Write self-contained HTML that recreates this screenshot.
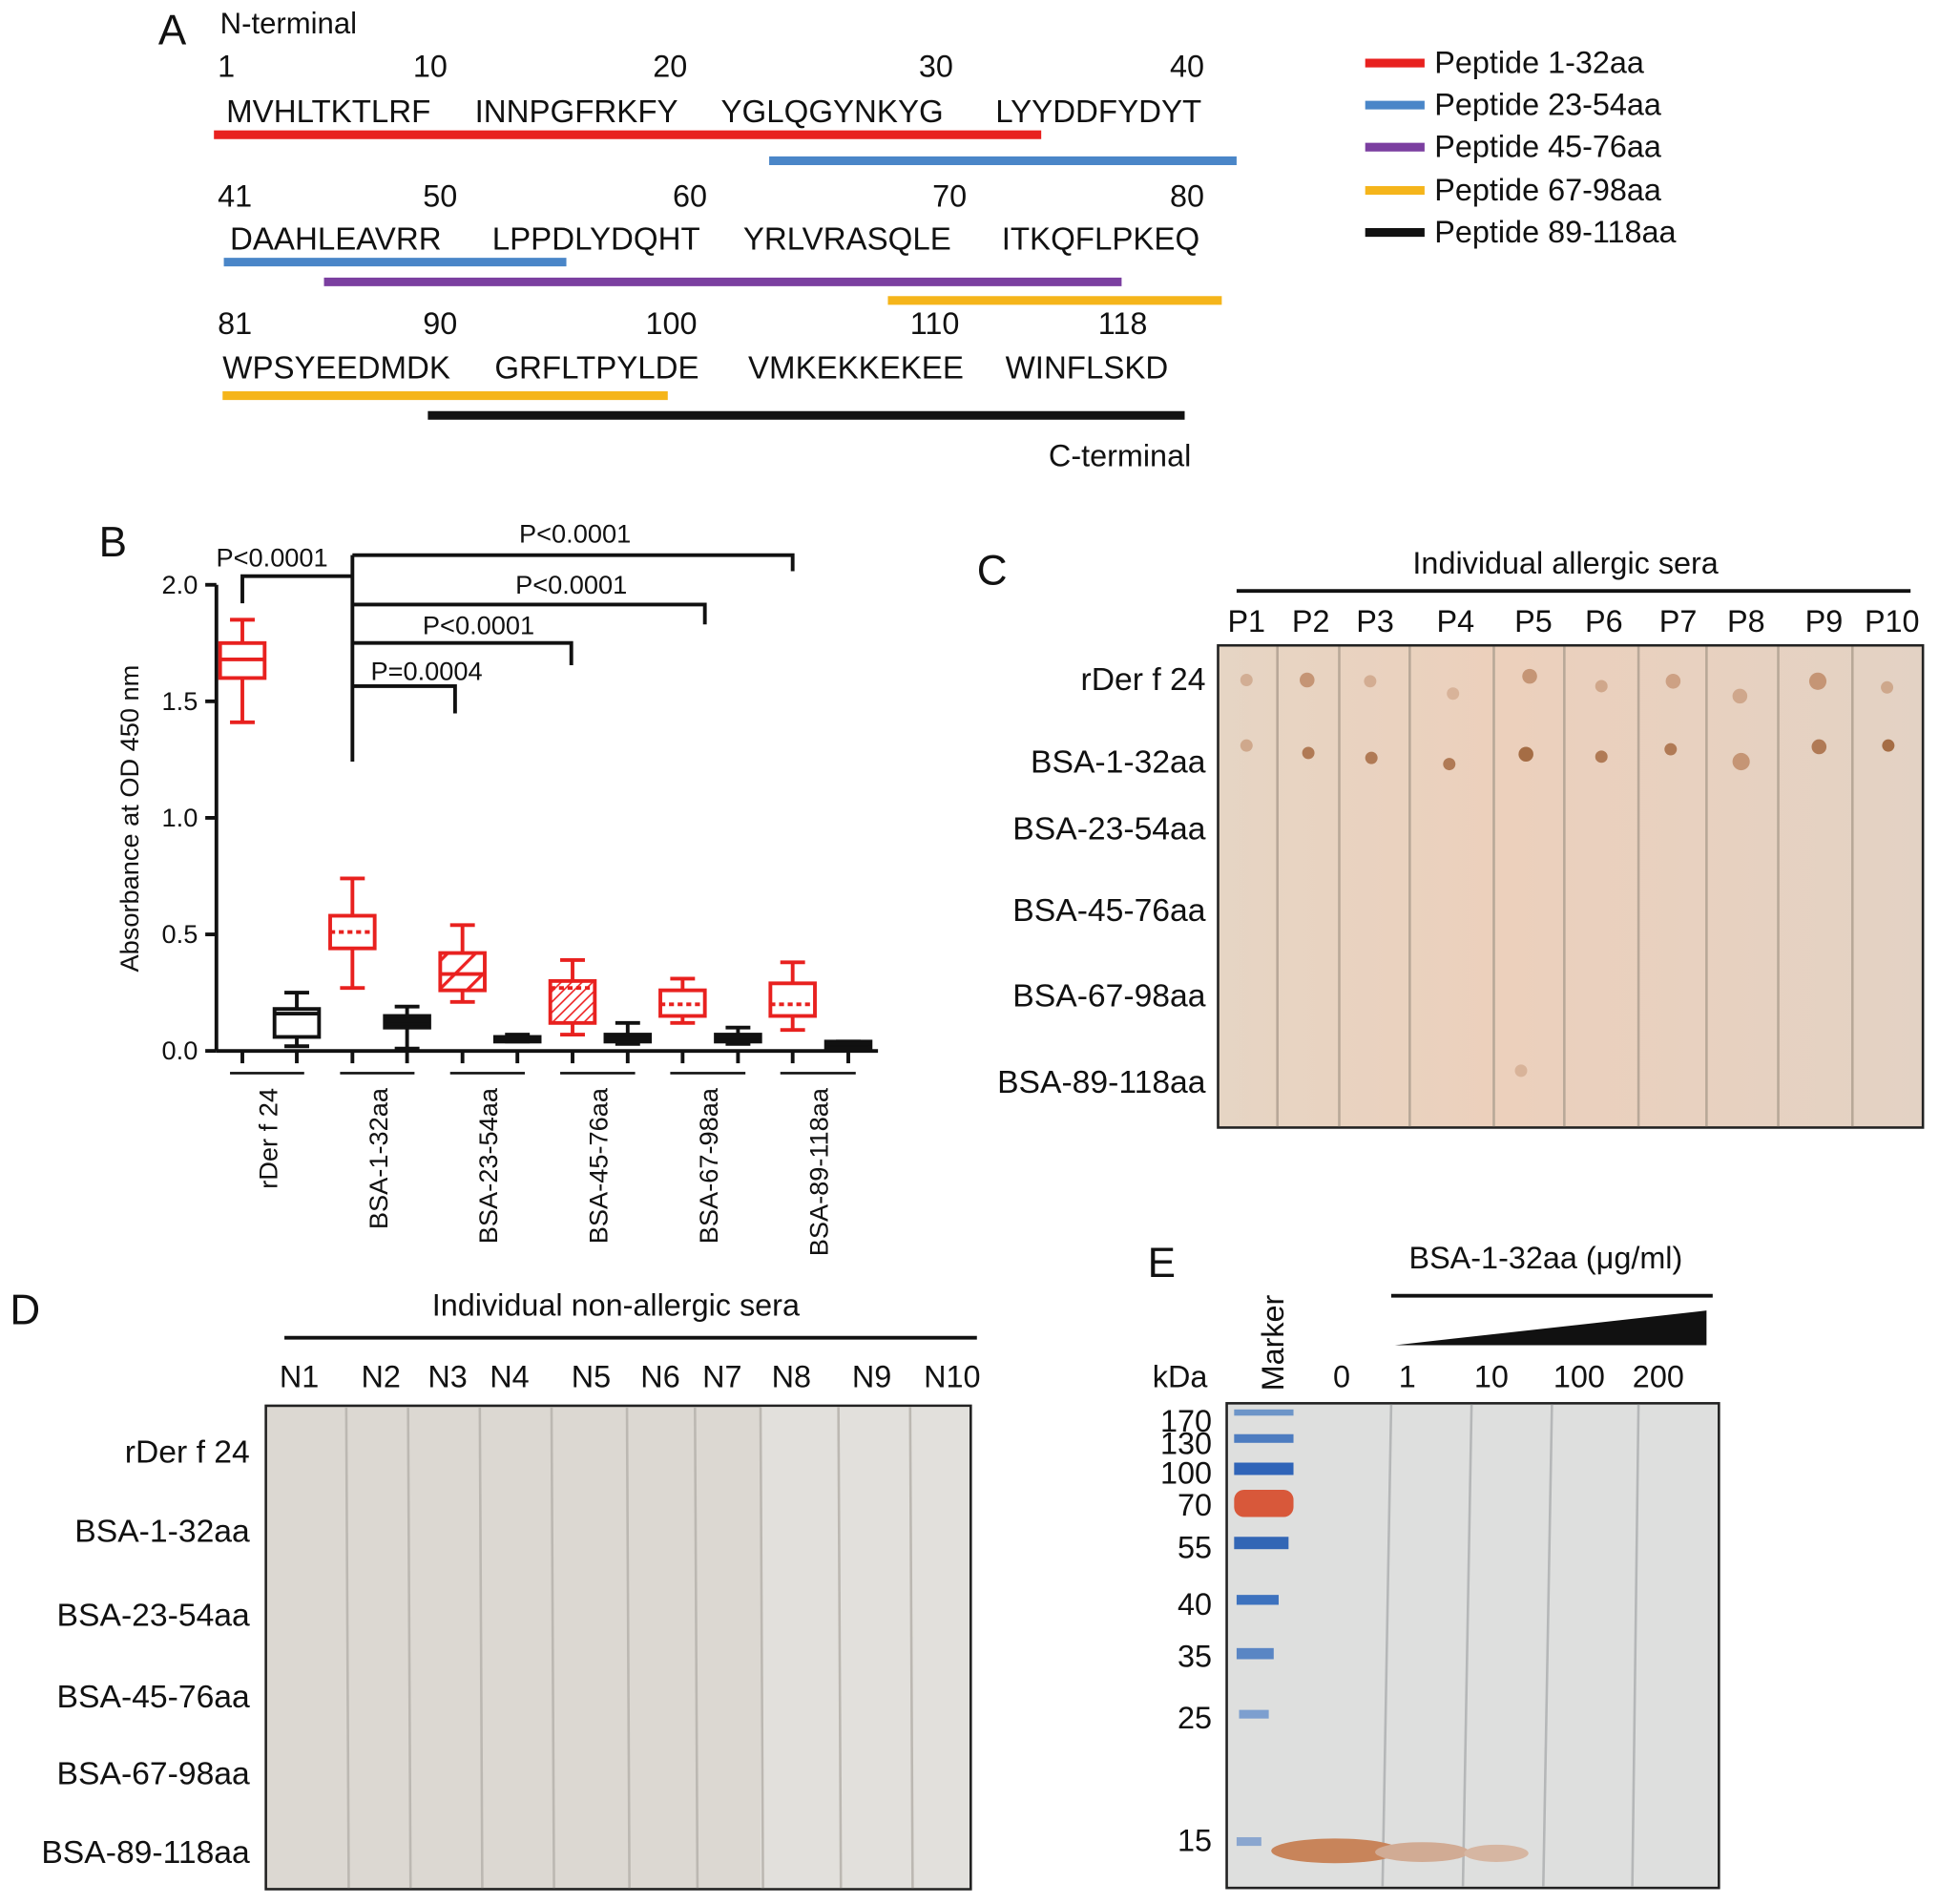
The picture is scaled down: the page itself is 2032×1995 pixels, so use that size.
<!DOCTYPE html>
<html><head><meta charset="utf-8"><style>
html,body{margin:0;padding:0;background:#fff;}
svg{display:block;font-family:"Liberation Sans",Arial,sans-serif;}
</style></head><body>
<svg id="fig" width="2032" height="1995" viewBox="0 0 1568 1540" preserveAspectRatio="none" xmlns="http://www.w3.org/2000/svg">
<defs>
<pattern id="hatch" patternUnits="userSpaceOnUse" width="6" height="6" patternTransform="rotate(45)"><line x1="0" y1="0" x2="0" y2="6" stroke="#e22" stroke-width="2.5"/></pattern>
<pattern id="hatch2" patternUnits="userSpaceOnUse" width="16" height="16" patternTransform="rotate(45)"><line x1="0" y1="0" x2="0" y2="16" stroke="#e22" stroke-width="5"/></pattern>
<linearGradient id="memC" x1="0" x2="1" y1="0" y2="0"><stop offset="0" stop-color="#e6d5c4"/><stop offset="0.4" stop-color="#ecd0bc"/><stop offset="1" stop-color="#e3d2c4"/></linearGradient>
</defs>

<g font-size="25" fill="#111">
<text x="128" y="36" font-size="34">A</text>
<text x="178" y="27" font-size="24">N-terminal</text>
<g>
<text x="176" y="62">1</text><text x="334" y="62">10</text><text x="528" y="62">20</text><text x="743" y="62">30</text><text x="946" y="62">40</text>
<text x="176" y="167">41</text><text x="342" y="167">50</text><text x="544" y="167">60</text><text x="754" y="167">70</text><text x="946" y="167">80</text>
<text x="176" y="270">81</text><text x="342" y="270">90</text><text x="522" y="270">100</text><text x="736" y="270">110</text><text x="888" y="270">118</text>
</g>
<g font-size="25.5">
<text x="183" y="99">MVHLTKTLRF</text><text x="384" y="99">INNPGFRKFY</text><text x="583" y="99">YGLQGYNKYG</text><text x="805" y="99">LYYDDFYDYT</text>
<text x="186" y="202">DAAHLEAVRR</text><text x="398" y="202">LPPDLYDQHT</text><text x="601" y="202">YRLVRASQLE</text><text x="810" y="202">ITKQFLPKEQ</text>
<text x="180" y="306">WPSYEEDMDK</text><text x="400" y="306">GRFLTPYLDE</text><text x="605" y="306">VMKEKKEKEE</text><text x="813" y="306">WINFLSKD</text>
</g>
<g stroke-width="7">
<line x1="173" y1="109" x2="842" y2="109" stroke="#e8211f"/>
<line x1="622" y1="130" x2="1000" y2="130" stroke="#4a86c8"/>
<line x1="181" y1="212" x2="458" y2="212" stroke="#4a86c8"/>
<line x1="262" y1="228" x2="907" y2="228" stroke="#7b3fa0"/>
<line x1="718" y1="243" x2="988" y2="243" stroke="#f5b51b"/>
<line x1="180" y1="320" x2="540" y2="320" stroke="#f5b51b"/>
<line x1="346" y1="336" x2="958" y2="336" stroke="#111"/>
</g>
<text x="848" y="377">C-terminal</text>
<g stroke-width="7">
<line x1="1104" y1="51" x2="1152" y2="51" stroke="#e8211f"/><text x="1160" y="59" stroke="none">Peptide 1-32aa</text>
<line x1="1104" y1="85" x2="1152" y2="85" stroke="#4a86c8"/><text x="1160" y="93" stroke="none">Peptide 23-54aa</text>
<line x1="1104" y1="119" x2="1152" y2="119" stroke="#7b3fa0"/><text x="1160" y="127" stroke="none">Peptide 45-76aa</text>
<line x1="1104" y1="154" x2="1152" y2="154" stroke="#f5b51b"/><text x="1160" y="162" stroke="none">Peptide 67-98aa</text>
<line x1="1104" y1="188" x2="1152" y2="188" stroke="#111"/><text x="1160" y="196" stroke="none">Peptide 89-118aa</text>
</g>
</g>

<g id="chartB" font-size="21" fill="#111">
<text x="80" y="450" font-size="34">B</text>
<text transform="translate(112,662) rotate(-90)" text-anchor="middle">Absorbance at OD 450 nm</text>
</g>

<g font-size="25" fill="#111">
<text x="790" y="473" font-size="34">C</text>
<text x="1266" y="464" text-anchor="middle">Individual allergic sera</text>
<line x1="1000" y1="478" x2="1545" y2="478" stroke="#111" stroke-width="3"/>
<g text-anchor="middle">
<text x="1008" y="511">P1</text><text x="1060" y="511">P2</text><text x="1112" y="511">P3</text><text x="1177" y="511">P4</text><text x="1240" y="511">P5</text><text x="1297" y="511">P6</text><text x="1357" y="511">P7</text><text x="1412" y="511">P8</text><text x="1475" y="511">P9</text><text x="1530" y="511">P10</text>
</g>
<rect x="985" y="522" width="570" height="390" fill="url(#memC)" stroke="#222" stroke-width="2"/>
<g stroke="#b8a898" stroke-width="2">
<line x1="1033" y1="523" x2="1033" y2="911"/><line x1="1083" y1="523" x2="1083" y2="911"/><line x1="1140" y1="523" x2="1140" y2="911"/><line x1="1208" y1="523" x2="1208" y2="911"/><line x1="1265" y1="523" x2="1265" y2="911"/><line x1="1325" y1="523" x2="1325" y2="911"/><line x1="1380" y1="523" x2="1380" y2="911"/><line x1="1438" y1="523" x2="1438" y2="911"/><line x1="1498" y1="523" x2="1498" y2="911"/>
</g>
<g fill="#c59575">
<circle cx="1008" cy="550" r="5" opacity=".6"/><circle cx="1057" cy="550" r="6"/><circle cx="1108" cy="551" r="5" opacity=".6"/><circle cx="1175" cy="561" r="5" opacity=".5"/><circle cx="1237" cy="547" r="6"/><circle cx="1295" cy="555" r="5" opacity=".7"/><circle cx="1353" cy="551" r="6" opacity=".8"/><circle cx="1407" cy="563" r="6" opacity=".7"/><circle cx="1470" cy="551" r="7"/><circle cx="1526" cy="556" r="5" opacity=".7"/>
<circle cx="1008" cy="603" r="5" opacity=".7"/><circle cx="1058" cy="609" r="5" fill="#b07a55"/><circle cx="1109" cy="613" r="5" fill="#b07a55"/><circle cx="1172" cy="618" r="5" fill="#b07a55"/><circle cx="1234" cy="610" r="6" fill="#a56d45"/><circle cx="1295" cy="612" r="5" fill="#b07a55"/><circle cx="1351" cy="606" r="5" fill="#b07a55"/><circle cx="1408" cy="616" r="7"/><circle cx="1471" cy="604" r="6" fill="#b07a55"/><circle cx="1527" cy="603" r="5" fill="#a56d45"/>
<circle cx="1230" cy="866" r="5" opacity=".5"/>
</g>
<g text-anchor="end" font-size="26">
<text x="975" y="558">rDer f 24</text><text x="975" y="625">BSA-1-32aa</text><text x="975" y="679">BSA-23-54aa</text><text x="975" y="745">BSA-45-76aa</text><text x="975" y="814">BSA-67-98aa</text><text x="975" y="884">BSA-89-118aa</text>
</g>
</g>

<g font-size="25" fill="#111">
<text x="8" y="1071" font-size="34">D</text>
<text x="498" y="1064" text-anchor="middle">Individual non-allergic sera</text>
<line x1="230" y1="1082" x2="790" y2="1082" stroke="#111" stroke-width="3"/>
<g text-anchor="middle">
<text x="242" y="1122">N1</text><text x="308" y="1122">N2</text><text x="362" y="1122">N3</text><text x="412" y="1122">N4</text><text x="478" y="1122">N5</text><text x="534" y="1122">N6</text><text x="584" y="1122">N7</text><text x="640" y="1122">N8</text><text x="705" y="1122">N9</text><text x="770" y="1122">N10</text>
</g>
<rect x="215" y="1137" width="570" height="391" fill="#dcd8d2" stroke="#222" stroke-width="2"/>
<rect x="615" y="1138" width="169" height="389" fill="#e2e0dc"/>
<g stroke="#bcb8b2" stroke-width="2">
<line x1="280" y1="1138" x2="282" y2="1527"/><line x1="330" y1="1138" x2="332" y2="1527"/><line x1="388" y1="1138" x2="390" y2="1527"/><line x1="446" y1="1138" x2="448" y2="1527"/><line x1="507" y1="1138" x2="509" y2="1527"/><line x1="562" y1="1138" x2="564" y2="1527"/><line x1="615" y1="1138" x2="617" y2="1527"/><line x1="678" y1="1138" x2="680" y2="1527"/><line x1="736" y1="1138" x2="738" y2="1527"/>
</g>
<g text-anchor="end" font-size="26">
<text x="202" y="1183">rDer f 24</text><text x="202" y="1247">BSA-1-32aa</text><text x="202" y="1315">BSA-23-54aa</text><text x="202" y="1381">BSA-45-76aa</text><text x="202" y="1443">BSA-67-98aa</text><text x="202" y="1507">BSA-89-118aa</text>
</g>
</g>

<g font-size="25" fill="#111">
<text x="928" y="1033" font-size="34">E</text>
<text x="1250" y="1026" text-anchor="middle">BSA-1-32aa (μg/ml)</text>
<line x1="1125" y1="1048" x2="1385" y2="1048" stroke="#111" stroke-width="3"/>
<polygon points="1128,1088 1380,1060 1380,1088" fill="#111"/>
<text x="932" y="1122">kDa</text>
<text transform="translate(1038,1125) rotate(-90)">Marker</text>
<g text-anchor="middle">
<text x="1085" y="1122">0</text><text x="1138" y="1122">1</text><text x="1206" y="1122">10</text><text x="1277" y="1122">100</text><text x="1341" y="1122">200</text>
</g>
<rect x="992" y="1135" width="398" height="392" fill="#dedfde" stroke="#222" stroke-width="2"/>
<g stroke="#b5b7b8" stroke-width="2"><line x1="1125" y1="1136" x2="1118" y2="1526"/><line x1="1190" y1="1136" x2="1183" y2="1526"/><line x1="1255" y1="1136" x2="1248" y2="1526"/><line x1="1325" y1="1136" x2="1320" y2="1526"/></g>
<g>
<rect x="998" y="1140" width="48" height="5" fill="#6d95c8"/><rect x="998" y="1160" width="48" height="7" fill="#4d7cc0"/><rect x="998" y="1183" width="48" height="10" fill="#2f64b8"/><rect x="998" y="1205" width="48" height="22" rx="8" fill="#d8583a"/><rect x="998" y="1243" width="44" height="10" fill="#3266b5"/><rect x="1000" y="1290" width="34" height="8" fill="#3d72be"/><rect x="1000" y="1333" width="30" height="9" fill="#5a86c4"/><rect x="1002" y="1383" width="24" height="7" fill="#7d9fcf"/><rect x="1000" y="1486" width="20" height="7" fill="#8aa6cf"/>
<ellipse cx="1080" cy="1497" rx="52" ry="10" fill="#c8845a"/><ellipse cx="1150" cy="1498" rx="38" ry="8" fill="#d1ab94"/><ellipse cx="1210" cy="1499" rx="26" ry="7" fill="#d6b6a2"/>
</g>
<g text-anchor="end">
<text x="980" y="1158">170</text><text x="980" y="1176">130</text><text x="980" y="1200">100</text><text x="980" y="1226">70</text><text x="980" y="1260">55</text><text x="980" y="1306">40</text><text x="980" y="1348">35</text><text x="980" y="1398">25</text><text x="980" y="1497">15</text>
</g>
</g>
</svg>

<script>
const categories = ["rDer f 24","BSA-1-32aa","BSA-23-54aa","BSA-45-76aa","BSA-67-98aa","BSA-89-118aa"];
const allergicMin = [1.41,0.27,0.21,0.07,0.12,0.09];
const allergicQ1  = [1.60,0.44,0.26,0.12,0.15,0.15];
const allergicMed = [1.68,0.51,0.33,0.27,0.20,0.20];
const allergicQ3  = [1.75,0.58,0.42,0.30,0.26,0.29];
const allergicMax = [1.85,0.74,0.54,0.39,0.31,0.38];
const controlMin = [0.02,0.01,0.04,0.03,0.03,0.01];
const controlQ1  = [0.06,0.10,0.04,0.04,0.04,0.01];
const controlMed = [0.16,0.13,0.05,0.05,0.06,0.03];
const controlQ3  = [0.18,0.15,0.06,0.07,0.07,0.04];
const controlMax = [0.25,0.19,0.07,0.12,0.10,0.04];
const yTicks = [0.0,0.5,1.0,1.5,2.0];
const yTickLabels = ["0.0","0.5","1.0","1.5","2.0"];
const pLabels = ["P\u003c0.0001","P\u003c0.0001","P\u003c0.0001","P\u003c0.0001","P=0.0004"];

const NS="http://www.w3.org/2000/svg";
const g=document.getElementById('chartB');
const y0=850, yScale=188.5, axX=175;
function Y(v){return y0-v*yScale;}
function Xr(i){return 196+i*89;}
function Xb(i){return 240+i*89.2;}
function mk(tag,attrs,parent){const e=document.createElementNS(NS,tag);for(const k in attrs)e.setAttribute(k,attrs[k]);(parent||g).appendChild(e);return e;}

const yAxis=mk('line',{x1:axX,y1:Y(2.0),x2:axX,y2:y0,stroke:'#111','stroke-width':3});


const xAxis=mk('line',{x1:axX,y1:y0,x2:710,y2:y0,stroke:'#111','stroke-width':3});


yTicks.forEach(function(t,i){
  mk('line',{x1:axX-9,y1:Y(t),x2:axX,y2:Y(t),stroke:'#111','stroke-width':3});
  const tl=mk('text',{x:axX-15,y:Y(t)+7,'text-anchor':'end'});
  tl.textContent=yTickLabels[i];
  
  
});

function box(x,mn,q1,md,q3,mx,color,fill,dash,name){
  const bx=mk('g',{stroke:color,'stroke-width':3,fill:'none'});
  
  
  const w=36;
  mk('line',{x1:x,y1:Y(mx),x2:x,y2:Y(q3)},bx);
  mk('line',{x1:x,y1:Y(q1),x2:x,y2:Y(mn)},bx);
  mk('line',{x1:x-10,y1:Y(mx),x2:x+10,y2:Y(mx)},bx);
  mk('line',{x1:x-10,y1:Y(mn),x2:x+10,y2:Y(mn)},bx);
  mk('rect',{x:x-w/2,y:Y(q3),width:w,height:Math.max(2,Y(q1)-Y(q3)),fill:fill},bx);
  const m=mk('line',{x1:x-w/2,y1:Y(md),x2:x+w/2,y2:Y(md)},bx);
  if(dash){m.setAttribute('stroke-dasharray','4 3');}
}
const redFills=['#fff','#fff','url(#hatch2)','url(#hatch)','#fff','#fff'];
for(let i=0;i!==categories.length;i++){
  box(Xr(i),allergicMin[i],allergicQ1[i],allergicMed[i],allergicQ3[i],allergicMax[i],'#e8211f',redFills[i],i===1||i>=3,'allergic-box-'+i);
  const cf = (i>0)?'#111':'#fff';
  box(Xb(i),controlMin[i],controlQ1[i],controlMed[i],controlQ3[i],controlMax[i],'#111',cf,false,'control-box-'+i);
  mk('line',{x1:Xr(i),y1:y0,x2:Xr(i),y2:y0+10,stroke:'#111','stroke-width':3});
  mk('line',{x1:Xb(i),y1:y0,x2:Xb(i),y2:y0+10,stroke:'#111','stroke-width':3});
  mk('line',{x1:Xr(i)-10,y1:868,x2:Xb(i)+6,y2:868,stroke:'#111','stroke-width':2});
  const cx=(Xr(i)+Xb(i))/2-1;
  const lab=mk('text',{transform:'translate('+(cx+7)+',880) rotate(-90)','text-anchor':'end'});
  lab.textContent=categories[i];
  
  
}
const brg=mk('g',{stroke:'#111','stroke-width':3,fill:'none'});


const hub=Xr(1);
mk('polyline',{points:Xr(0)+',488 '+Xr(0)+',466 '+hub+',466'},brg);
mk('line',{x1:hub,y1:449,x2:hub,y2:616},brg);
const brY=[449,489,520,555], brEnd=[Xr(5),Xr(4)+18,Xr(2)+88,Xr(2)-6], brDown=[462,505,538,577];
for(let k=0;k!==4;k++){
  mk('polyline',{points:hub+','+brY[k]+' '+brEnd[k]+','+brY[k]+' '+brEnd[k]+','+brDown[k]},brg);
}
const pX=[220,465,462,387,345], pY=[458,439,480,513,550];
pLabels.forEach(function(p,k){
  const t=mk('text',{x:pX[k],y:pY[k],'text-anchor':'middle'});
  t.textContent=p;
  
  
});
</script>
</body></html>
